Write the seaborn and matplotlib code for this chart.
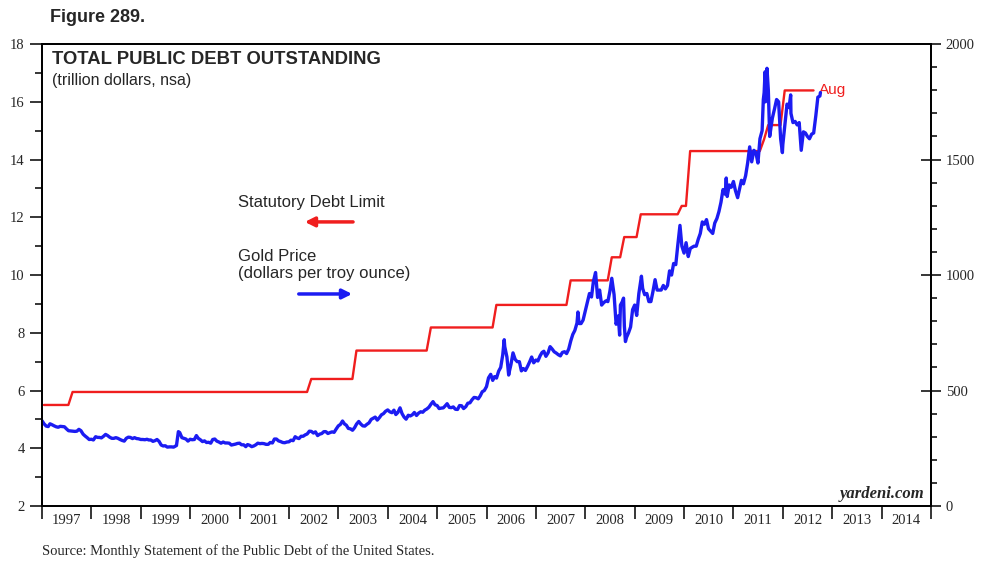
import matplotlib
matplotlib.use("Agg")
import numpy as np
import pandas as pd
import matplotlib.pyplot as plt
import seaborn as sns
from matplotlib.ticker import MultipleLocator, NullFormatter, FixedLocator

# statutory debt limit (trillion dollars), monthly change points
debt_months = ["1997-01", "1997-07", "1997-08", "2002-05", "2002-06", "2003-04", "2003-05",
               "2004-10", "2004-11", "2006-02", "2006-03", "2007-08", "2007-09", "2008-06",
               "2008-07", "2008-09", "2008-10", "2009-01", "2009-02", "2009-11", "2009-12",
               "2010-01", "2010-02", "2011-07", "2011-08", "2011-09", "2011-12", "2012-01",
               "2012-08"]
debt_limit = [5.5, 5.5, 5.95, 5.95, 6.4, 6.4, 7.384,
              7.384, 8.184, 8.184, 8.965, 8.965, 9.815, 9.815,
              10.615, 10.615, 11.315, 11.315, 12.104, 12.104, 12.394,
              12.394, 14.294, 14.294, 14.694, 15.194, 15.194, 16.394,
              16.394]

# gold price (dollars per troy ounce)
gold_dates = [
    "1997-01-01", "1997-01-16", "1997-02-01", "1997-02-16", "1997-03-01", "1997-03-16", "1997-04-01", "1997-04-16",
    "1997-05-01", "1997-05-16", "1997-06-01", "1997-06-16", "1997-07-01", "1997-07-16", "1997-08-01", "1997-08-16",
    "1997-09-01", "1997-09-16", "1997-10-01", "1997-10-16", "1997-11-01", "1997-11-16", "1997-12-01", "1997-12-16",
    "1998-01-01", "1998-01-16", "1998-02-01", "1998-02-16", "1998-03-01", "1998-03-16", "1998-04-01", "1998-04-16",
    "1998-05-01", "1998-05-16", "1998-06-01", "1998-06-16", "1998-07-01", "1998-07-16", "1998-08-01", "1998-08-16",
    "1998-09-01", "1998-09-16", "1998-10-01", "1998-10-16", "1998-11-01", "1998-11-16", "1998-12-01", "1998-12-16",
    "1999-01-01", "1999-01-16", "1999-02-01", "1999-02-16", "1999-03-01", "1999-03-16", "1999-04-01", "1999-04-16",
    "1999-05-01", "1999-05-16", "1999-06-01", "1999-06-16", "1999-07-01", "1999-07-16", "1999-08-01", "1999-08-16",
    "1999-09-01", "1999-09-22", "1999-10-01", "1999-10-06", "1999-10-16", "1999-11-01", "1999-11-16", "1999-12-01", "1999-12-16",
    "2000-01-01", "2000-01-16", "2000-02-01", "2000-02-16", "2000-03-01", "2000-03-16", "2000-04-01", "2000-04-16",
    "2000-05-01", "2000-05-16", "2000-06-01", "2000-06-16", "2000-07-01", "2000-07-16", "2000-08-01", "2000-08-16",
    "2000-09-01", "2000-09-16", "2000-10-01", "2000-10-16", "2000-11-01", "2000-11-16", "2000-12-01", "2000-12-16",
    "2001-01-01", "2001-01-16", "2001-02-01", "2001-02-16", "2001-03-01", "2001-03-16", "2001-04-01", "2001-04-16",
    "2001-05-01", "2001-05-16", "2001-06-01", "2001-06-16", "2001-07-01", "2001-07-16", "2001-08-01", "2001-08-16",
    "2001-09-01", "2001-09-16", "2001-10-01", "2001-10-16", "2001-11-01", "2001-11-16", "2001-12-01", "2001-12-16",
    "2002-01-01", "2002-01-16", "2002-02-01", "2002-02-16", "2002-03-01", "2002-03-16", "2002-04-01", "2002-04-16",
    "2002-05-01", "2002-05-16", "2002-06-01", "2002-06-16", "2002-07-01", "2002-07-16", "2002-08-01", "2002-08-16",
    "2002-09-01", "2002-09-16", "2002-10-01", "2002-10-16", "2002-11-01", "2002-11-16", "2002-12-01", "2002-12-16",
    "2003-01-01", "2003-01-16", "2003-02-01", "2003-02-16", "2003-03-01", "2003-03-16", "2003-04-01", "2003-04-16",
    "2003-05-01", "2003-05-16", "2003-06-01", "2003-06-16", "2003-07-01", "2003-07-16", "2003-08-01", "2003-08-16",
    "2003-09-01", "2003-09-16", "2003-10-01", "2003-10-16", "2003-11-01", "2003-11-16", "2003-12-01", "2003-12-16",
    "2004-01-01", "2004-01-16", "2004-02-01", "2004-02-16", "2004-03-01", "2004-03-16", "2004-04-01", "2004-04-16",
    "2004-05-01", "2004-05-16", "2004-06-01", "2004-06-16", "2004-07-01", "2004-07-16", "2004-08-01", "2004-08-16",
    "2004-09-01", "2004-09-16", "2004-10-01", "2004-10-16", "2004-11-01", "2004-11-16", "2004-12-01", "2004-12-16",
    "2005-01-01", "2005-01-16", "2005-02-01", "2005-02-16", "2005-03-01", "2005-03-16", "2005-04-01", "2005-04-16",
    "2005-05-01", "2005-05-16", "2005-06-01", "2005-06-16", "2005-07-01", "2005-07-16", "2005-08-01", "2005-08-16",
    "2005-09-01", "2005-09-16", "2005-10-01", "2005-10-16", "2005-11-01", "2005-11-16", "2005-12-01", "2005-12-16",
    "2006-01-01", "2006-01-16", "2006-02-01", "2006-02-16", "2006-03-01", "2006-03-16", "2006-04-01", "2006-04-16",
    "2006-05-01", "2006-05-12", "2006-05-16", "2006-06-01", "2006-06-14", "2006-06-20", "2006-07-01", "2006-07-16",
    "2006-08-01", "2006-08-16", "2006-09-01", "2006-09-16", "2006-10-01", "2006-10-16", "2006-11-01", "2006-11-16",
    "2006-12-01", "2006-12-16",
    "2007-01-01", "2007-01-16", "2007-02-01", "2007-02-16", "2007-03-01", "2007-03-16", "2007-04-01", "2007-04-16",
    "2007-05-01", "2007-05-16", "2007-06-01", "2007-06-16", "2007-07-01", "2007-07-16", "2007-08-01", "2007-08-16",
    "2007-09-01", "2007-09-16", "2007-10-01", "2007-10-16", "2007-11-01", "2007-11-08", "2007-11-16", "2007-12-01",
    "2007-12-16",
    "2008-01-01", "2008-01-16", "2008-02-01", "2008-02-16", "2008-03-01", "2008-03-17", "2008-04-01", "2008-04-16",
    "2008-05-01", "2008-05-16", "2008-06-01", "2008-06-16", "2008-07-01", "2008-07-15", "2008-08-01", "2008-08-16",
    "2008-09-01", "2008-09-11", "2008-09-17", "2008-10-01", "2008-10-10", "2008-10-16", "2008-10-24", "2008-11-01",
    "2008-11-16", "2008-12-01", "2008-12-16",
    "2009-01-01", "2009-01-16", "2009-02-01", "2009-02-20", "2009-03-01", "2009-03-16", "2009-04-01", "2009-04-16",
    "2009-05-01", "2009-05-16", "2009-06-01", "2009-06-16", "2009-07-01", "2009-07-16", "2009-08-01", "2009-08-16",
    "2009-09-01", "2009-09-16", "2009-10-01", "2009-10-16", "2009-11-01", "2009-11-16", "2009-12-02", "2009-12-16",
    "2010-01-01", "2010-01-16", "2010-02-01", "2010-02-16", "2010-03-01", "2010-03-16", "2010-04-01", "2010-04-16",
    "2010-05-01", "2010-05-16", "2010-06-01", "2010-06-16", "2010-07-01", "2010-07-16", "2010-08-01", "2010-08-16",
    "2010-09-01", "2010-09-16", "2010-10-01", "2010-10-16", "2010-11-01", "2010-11-09", "2010-11-16", "2010-12-01",
    "2010-12-16",
    "2011-01-01", "2011-01-16", "2011-02-01", "2011-02-16", "2011-03-01", "2011-03-16", "2011-04-01", "2011-04-16",
    "2011-05-01", "2011-05-16", "2011-06-01", "2011-06-16", "2011-07-01", "2011-07-16", "2011-08-01", "2011-08-10",
    "2011-08-16", "2011-08-23", "2011-08-26", "2011-09-01", "2011-09-06", "2011-09-16", "2011-09-26", "2011-10-01",
    "2011-10-16", "2011-11-01", "2011-11-16", "2011-12-01", "2011-12-16", "2011-12-29",
    "2012-01-01", "2012-01-16", "2012-02-01", "2012-02-16", "2012-02-28", "2012-03-01", "2012-03-16", "2012-04-01",
    "2012-04-16", "2012-05-01", "2012-05-16", "2012-06-01", "2012-06-16", "2012-07-01", "2012-07-16", "2012-08-01",
    "2012-08-16", "2012-09-01", "2012-09-16", "2012-10-01", "2012-10-05",
]
gold_prices = [
    369, 356, 346, 344, 356, 352, 347, 343, 341, 345, 344, 343, 334, 326, 325, 324,
    323, 324, 332, 326, 311, 303, 296, 288,
    289, 286, 300, 297, 297, 295, 302, 310, 305, 298, 293, 293, 296, 293, 288, 284,
    281, 293, 298, 297, 292, 296, 292, 291,
    288, 288, 287, 289, 286, 286, 280, 283, 288, 280, 264, 260, 261, 255, 256, 256,
    255, 262, 300, 322, 318, 296, 293, 290, 281,
    289, 287, 288, 305, 293, 287, 279, 282, 275, 276, 272, 288, 290, 281, 277, 272,
    277, 273, 273, 272, 264, 266, 268, 271,
    272, 265, 265, 257, 266, 263, 257, 260, 265, 272, 270, 271, 270, 267, 267, 275,
    273, 290, 290, 282, 279, 275, 274, 277,
    278, 285, 283, 300, 295, 292, 302, 302, 308, 312, 324, 323, 316, 321, 305, 311,
    314, 322, 322, 314, 318, 321, 319, 333,
    347, 353, 368, 355, 350, 336, 334, 328, 339, 355, 366, 355, 347, 346, 354, 360,
    375, 380, 385, 372, 383, 395, 400, 410,
    416, 408, 404, 415, 396, 405, 425, 400, 385, 376, 393, 390, 395, 405, 392, 402,
    408, 406, 415, 420, 428, 441, 452, 438,
    435, 422, 424, 425, 433, 443, 427, 426, 429, 419, 418, 435, 434, 422, 430, 445,
    447, 460, 470, 469, 464, 477, 495, 500,
    517, 555, 570, 544, 560, 554, 584, 600, 654, 720, 690, 645, 567, 585, 613, 663,
    635, 625, 625, 585, 595, 587, 605, 624, 645, 620,
    632, 628, 650, 665, 670, 648, 663, 690, 680, 668, 662, 655, 650, 665, 668, 660,
    680, 715, 743, 760, 792, 840, 790, 790, 805,
    845, 884, 920, 905, 972, 1011, 903, 935, 870, 880, 888, 885, 930, 986, 915, 787,
    823, 740, 870, 885, 900, 780, 712, 730, 750, 775, 850,
    870, 825, 920, 995, 942, 915, 920, 885, 885, 928, 980, 935, 935, 935, 955, 940,
    955, 1018, 1000, 1050, 1045, 1130, 1215, 1125,
    1095, 1140, 1080, 1115, 1120, 1125, 1125, 1155, 1180, 1230, 1220, 1240, 1200, 1190, 1180, 1225,
    1245, 1275, 1315, 1370, 1350, 1420, 1340, 1390, 1380,
    1405, 1365, 1335, 1375, 1410, 1395, 1430, 1485, 1555, 1490, 1540, 1530, 1485, 1590, 1625, 1760,
    1790, 1880, 1750, 1825, 1895, 1800, 1600, 1620, 1680, 1720, 1760, 1750, 1590, 1530,
    1565, 1650, 1740, 1725, 1780, 1700, 1660, 1665, 1650, 1660, 1540, 1620, 1615, 1600, 1590, 1610,
    1615, 1690, 1770, 1775, 1790,
]

year_labels = [str(y) for y in range(1997, 2015)]


def decimal_year(dates):
    d = pd.to_datetime(pd.Series(dates))
    return (d.dt.year + (d.dt.dayofyear - 1) / 365.25).to_numpy()


debt_df = pd.DataFrame({"year": decimal_year([m + "-15" for m in debt_months]),
                        "limit": debt_limit})
gold_df = pd.DataFrame({"year": decimal_year(gold_dates), "price": gold_prices})

sns.set_style("ticks")
plt.rcParams["font.family"] = ["Liberation Sans", "DejaVu Sans"]
serif = "Liberation Serif"

fig = plt.figure(figsize=(10, 5.76), dpi=100)
ax = fig.add_axes([0.042, 0.1215, 0.889, 0.802])
ax2 = ax.twinx()

sns.lineplot(data=debt_df, x="year", y="limit", ax=ax, color="#f01e1e", linewidth=1.7)
sns.lineplot(data=gold_df, x="year", y="price", ax=ax2, color="#1c1cf2", linewidth=2.4)

ax.set_xlim(1997, 2015)
ax.set_ylim(2, 18)
ax2.set_ylim(0, 2000)
for a in (ax, ax2):
    a.set_xlabel("")
    a.set_ylabel("")
    for s in a.spines.values():
        s.set_linewidth(1.3)
        s.set_color("black")

# x axis: ticks at year boundaries, labels centred in between
ax.xaxis.set_major_locator(FixedLocator(np.arange(1997, 2016)))
ax.xaxis.set_major_formatter(NullFormatter())
ax.xaxis.set_minor_locator(FixedLocator(np.arange(1997.5, 2015)))
ax.set_xticklabels(year_labels, minor=True)
ax.tick_params(axis="x", which="major", direction="out", length=9, width=1.3)
ax.tick_params(axis="x", which="minor", length=0, pad=6)
for t in ax.get_xticklabels(minor=True):
    t.set_fontfamily(serif)
    t.set_fontsize(10.5)

ax.yaxis.set_major_locator(MultipleLocator(2))
ax.yaxis.set_minor_locator(MultipleLocator(1))
ax.tick_params(axis="y", which="major", direction="out", length=9, width=1.3, labelsize=10.5)
ax.tick_params(axis="y", which="minor", direction="out", length=5, width=1.3)
for t in ax.get_yticklabels():
    t.set_fontfamily(serif)

ax2.yaxis.set_major_locator(MultipleLocator(500))
ax2.yaxis.set_minor_locator(MultipleLocator(100))
ax2.tick_params(axis="y", which="major", direction="inout", length=14, width=1.3, labelsize=10.5)
ax2.tick_params(axis="y", which="minor", direction="out", length=4, width=1.3)
for t in ax2.get_yticklabels():
    t.set_fontfamily(serif)

# titles and notes
ax.text(0.011, 0.9675, "TOTAL PUBLIC DEBT OUTSTANDING", transform=ax.transAxes,
        fontsize=13.3, fontweight="bold", va="center", ha="left")
ax.text(0.011, 0.922, "(trillion dollars, nsa)", transform=ax.transAxes,
        fontsize=11.5, va="center", ha="left")
fig.text(0.05, 0.970, "Figure 289.", fontsize=13, fontweight="bold", va="center", ha="left")
fig.text(0.042, 0.0434, "Source: Monthly Statement of the Public Debt of the United States.",
         fontsize=10.5, family=serif, va="center", ha="left")
ax.text(0.993, 0.008, "yardeni.com", transform=ax.transAxes, fontsize=12,
        family=serif, fontweight="bold", fontstyle="italic", ha="right", va="bottom")
ax.text(debt_df["year"].iloc[-1] + 0.12, debt_limit[-1], "Aug", color="#f01e1e",
        fontsize=11, va="center", ha="left")

# legend with arrows
ax.text(0.2205, 0.656, "Statutory Debt Limit", transform=ax.transAxes, fontsize=12,
        va="center", ha="left")
ax.annotate("", xy=(0.2925, 0.615), xytext=(0.353, 0.615), xycoords="axes fraction",
            arrowprops=dict(arrowstyle="-|>", color="#f01e1e", lw=2.5, mutation_scale=14))
ax.text(0.2205, 0.541, "Gold Price", transform=ax.transAxes, fontsize=12,
        va="center", ha="left")
ax.text(0.2205, 0.504, "(dollars per troy ounce)", transform=ax.transAxes, fontsize=12,
        va="center", ha="left")
ax.annotate("", xy=(0.352, 0.459), xytext=(0.2857, 0.459), xycoords="axes fraction",
            arrowprops=dict(arrowstyle="-|>", color="#1c1cf2", lw=2.5, mutation_scale=14))

fig.savefig("out.png", dpi=100)
